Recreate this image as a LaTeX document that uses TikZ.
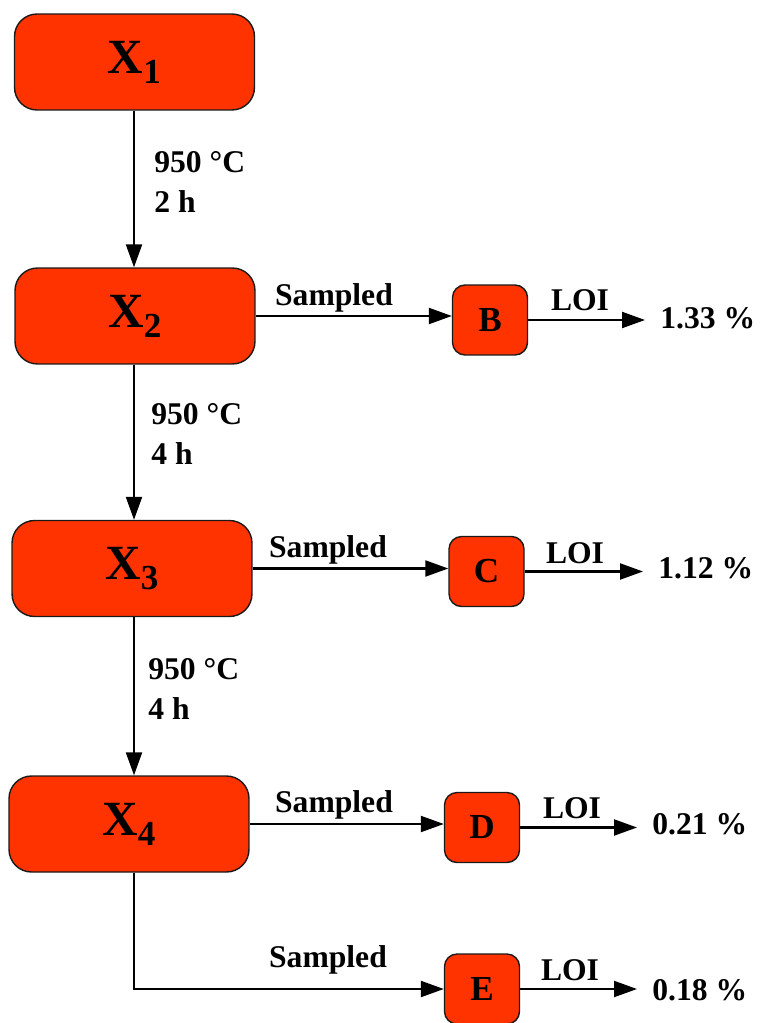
\documentclass[tikz,border=0pt]{standalone}
\usepackage{fontspec}
\setmainfont{Liberation Serif}
\usetikzlibrary{arrows.meta,positioning}
\definecolor{boxred}{HTML}{FF3300}
\definecolor{edge}{HTML}{1A1A1A}
\tikzset{
  stage/.style={draw=edge, fill=boxred, line width=0.8pt, rounded corners=0.45cm,
    minimum width=4.8cm, minimum height=1.92cm, font=\fontsize{28}{28}\selectfont\bfseries},
  samp/.style={draw=edge, fill=boxred, line width=0.8pt, rounded corners=0.25cm,
    minimum width=1.5cm, minimum height=1.4cm, font=\fontsize{20}{20}\selectfont\bfseries},
  flow/.style={draw=black, line width=1.2pt, -{Triangle[length=0.46cm,width=0.32cm]}},
  lab/.style={font=\fontsize{18}{18}\selectfont\bfseries, inner sep=0pt},
  cond/.style={font=\fontsize{18}{23}\selectfont\bfseries, align=left, anchor=west, inner sep=0pt},
  res/.style={font=\fontsize{18}{18}\selectfont\bfseries, anchor=west, inner sep=0pt, inner xsep=0.3cm},
}
\newcommand{\stagename}[1]{X\raisebox{-0.45ex}{\fontsize{20}{20}\selectfont #1}}

\begin{document}
\begin{tikzpicture}[x=0.02cm, y=-0.02cm]
\useasboundingbox (0,0) rectangle (760,1023);
% furnace stages
\node[stage] (x1) at (134.5,62) {\stagename{1}};
\node[stage] (x2) at (135,316) {\stagename{2}};
\node[stage] (x3) at (132,568.5) {\stagename{3}};
\node[stage] (x4) at (129,824) {\stagename{4}};
\coordinate (spine) at (134,0);

% sampled specimens
\node[samp] (b) at (490,320) {B};
\node[samp] (c) at (486.5,571.5) {C};
\node[samp] (d) at (482,827.5) {D};
\node[samp] (e) at (482,989) {E};

% LOI results
\node[res] (rb) at (645,318) {1.33 \%};
\node[res] (rc) at (643,568) {1.12 \%};
\node[res] (rd) at (637,824) {0.21 \%};
\node[res] (re) at (637,990) {0.18 \%};

% heating steps
\draw[flow] (spine |- x1.south) -- (spine |- x2.north);
\draw[flow] (spine |- x2.south) -- (spine |- x3.north);
\draw[flow] (spine |- x3.south) -- (spine |- x4.north);
\node[cond] (h1) at (154,182) {950 °C\\2 h};
\node[cond] (h2) at (151,434) {950 °C\\4 h};
\node[cond] (h3) at (148,689) {950 °C\\4 h};

% sampling
\draw[flow] (x2.east) -- (x2.east -| b.west);
\draw[flow] (x3.east) -- (x3.east -| c.west);
\draw[flow] (x4.east) -- (x4.east -| d.west);
\draw[flow] (spine |- x4.south) |- (e.west);
\node[lab] (s2) at (334,298) {Sampled};
\node[lab] (s3) at (328,550) {Sampled};
\node[lab] (s4) at (334,805) {Sampled};
\node[lab] (s5) at (328,960) {Sampled};

% loss on ignition
\draw[flow] (b.east) -- (b.east -| rb.west);
\draw[flow] (c.east) -- (c.east -| rc.west);
\draw[flow] (d.east) -- (d.east -| rd.west);
\draw[flow] (e.east) -- (e.east -| re.west);
\node[lab] (l2) at (580,300) {LOI};
\node[lab] (l3) at (575,553) {LOI};
\node[lab] (l4) at (572,808) {LOI};
\node[lab] (l5) at (570,970) {LOI};
\end{tikzpicture}
\end{document}
